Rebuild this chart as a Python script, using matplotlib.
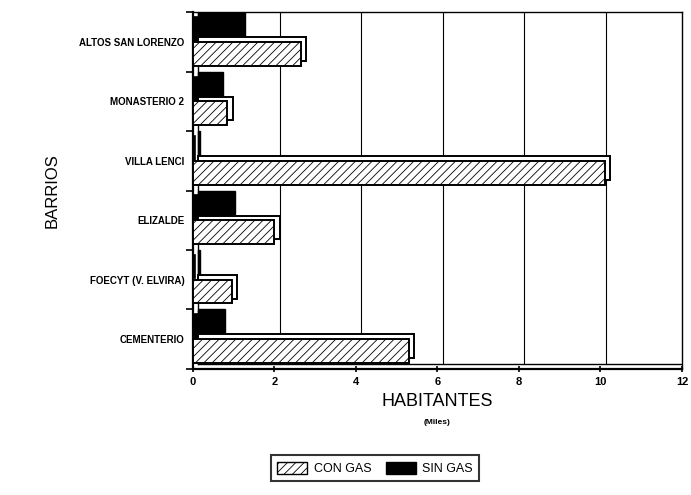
import numpy as np
import matplotlib
matplotlib.use('Agg')
import matplotlib.pyplot as plt
from matplotlib.patches import Patch

plt.rcParams['font.family'] = ['Liberation Sans', 'DejaVu Sans']
plt.rcParams['hatch.linewidth'] = 0.6

# data (miles de habitantes), top to bottom as in the chart
barrios = ['ALTOS SAN LORENZO', 'MONASTERIO 2', 'VILLA LENCI', 'ELIZALDE',
           'FOECYT (V. ELVIRA)', 'CEMENTERIO']
con_gas = [2.65, 0.85, 10.1, 2.0, 0.95, 5.3]
sin_gas = [1.15, 0.6, 0.05, 0.9, 0.05, 0.65]
xticks = [0, 2, 4, 6, 8, 10, 12]

fig = plt.figure(figsize=(6.91, 4.95), dpi=100)
ax = fig.add_axes([0.279, 0.255, 0.708, 0.72])

n = len(barrios)
y = np.arange(n)[::-1]
h = 0.40
dx, dy = 0.13, 0.08  # fake 3D depth

# back wall grid lines
for gx in xticks[1:-1]:
    ax.plot([gx + dx, gx + dx], [-0.5 + dy, n - 0.5], color='black', lw=0.8, zorder=0)
ax.plot([dx, dx], [-0.5 + dy, n - 0.5], color='black', lw=1.0, zorder=0)
ax.plot([dx, 12], [-0.5 + dy, -0.5 + dy], color='black', lw=1.0, zorder=0)

# sin gas (upper bar), con gas (lower bar)
ys = y + 0.22
yc = y - 0.20
ax.barh(ys + dy, sin_gas, height=h, left=dx, color='black', edgecolor='black', lw=1.0, zorder=2)
ax.barh(ys, sin_gas, height=h, color='black', edgecolor='black', lw=1.2, zorder=3)
ax.barh(yc + dy, con_gas, height=h, left=dx, color='white', edgecolor='black', lw=1.4, zorder=4)
ax.barh(yc, con_gas, height=h, color='white', edgecolor='black', hatch='////', lw=1.4, zorder=5)

ax.set_xlim(0, 12)
ax.set_ylim(-0.5, n - 0.5)
ax.set_xticks(xticks)
ax.set_xticklabels([str(t) for t in xticks], fontsize=8, fontweight='bold')
ax.set_yticks(y)
ax.set_yticklabels(barrios, fontsize=7, fontweight='bold')
ax.tick_params(axis='y', length=0, pad=6)
ax.tick_params(axis='x', length=5, width=1.2, direction='inout')
ax.set_yticks(np.arange(n + 1) - 0.5, minor=True)
ax.tick_params(axis='y', which='minor', length=5, width=1.2, direction='out')

for s in ['left', 'bottom']:
    ax.spines[s].set_linewidth(1.6)
for s in ['top', 'right']:
    ax.spines[s].set_linewidth(1.0)

ax.set_xlabel('HABITANTES', fontsize=13, labelpad=4)
fig.text(0.633, 0.143, '(Miles)', fontsize=6, fontweight='bold', ha='center')
ax.set_ylabel('BARRIOS', fontsize=12, labelpad=14)

handles = [Patch(facecolor='white', edgecolor='black', hatch='////', label='CON GAS'),
           Patch(facecolor='black', edgecolor='black', label='SIN GAS')]
leg = fig.legend(handles=handles, loc='center', bbox_to_anchor=(0.543, 0.054), ncol=2,
                 frameon=True, fancybox=False, edgecolor='black', fontsize=9,
                 handlelength=2.4, handleheight=1.1, columnspacing=1.2,
                 borderpad=0.5, handletextpad=0.5)
leg.get_frame().set_linewidth(1.5)

fig.savefig('out.png', dpi=100)
